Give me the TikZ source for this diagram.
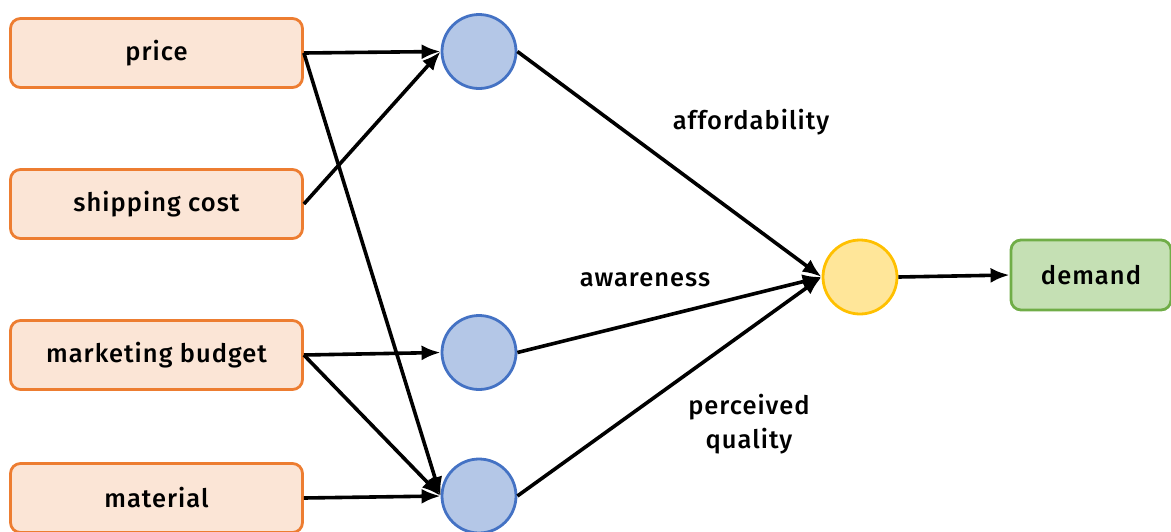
\documentclass[tikz,border=0pt]{standalone}
\usepackage{fontspec}
\setmainfont{Fira Sans}[UprightFont=* Medium,LetterSpace=4]
\usetikzlibrary{arrows.meta}

\definecolor{inorange}{HTML}{ED7D31}
\definecolor{inorangefill}{HTML}{FBE5D6}
\definecolor{hidblue}{HTML}{4472C4}
\definecolor{hidbluefill}{HTML}{B4C7E7}
\definecolor{outyellow}{HTML}{FFC000}
\definecolor{outyellowfill}{HTML}{FFE699}
\definecolor{resgreen}{HTML}{70AD47}
\definecolor{resgreenfill}{HTML}{C5E0B4}

\tikzset{
    inputbox/.style={draw=inorange,fill=inorangefill,line width=2.8pt,rounded corners=10pt,
        minimum width=292pt,minimum height=69pt},
    hidden/.style={circle,draw=hidblue,fill=hidbluefill,line width=2.8pt,minimum size=74pt},
    outnode/.style={circle,draw=outyellow,fill=outyellowfill,line width=2.8pt,minimum size=74pt},
    resultbox/.style={draw=resgreen,fill=resgreenfill,line width=2.8pt,rounded corners=10pt,
        minimum width=160pt,minimum height=70pt},
    link/.style={line width=3.6pt,-{Latex[length=19pt,width=15pt]}},
}

\begin{document}
\begin{tikzpicture}[x=1pt,y=-1pt,font=\fontsize{25.5}{30}\selectfont]

    \useasboundingbox (0,0) rectangle (1171,531);

    % input boxes
    \node[inputbox] (price)     at (156.5,53)  {price};
    \node[inputbox] (shipping)  at (156.5,204) {shipping cost};
    \node[inputbox] (marketing) at (156.5,355) {marketing budget};
    \node[inputbox] (material)  at (156.5,498) {material};

    % hidden layer
    \node[hidden] (afford)  at (479,51.5)  {};
    \node[hidden] (aware)   at (479,352.5) {};
    \node[hidden] (quality) at (479,496)   {};

    % output
    \node[outnode] (out) at (860,277) {};
    \node[resultbox] (demand) at (1091,275) {demand};

    % inputs to hidden layer
    \draw[link] (price.east) -- (afford.west);
    \draw[link] (price.east) -- (quality.west);
    \draw[link] (shipping.east) -- (afford.west);
    \draw[link] (marketing.east) -- (aware.west);
    \draw[link] (marketing.east) -- (quality.west);
    \draw[link] (material.east) -- (quality.west);

    % hidden layer to output
    \foreach \h in {afford,aware,quality}
        \draw[link] (\h.east) -- (out.west);
    \draw[link] (out.east) -- (demand.west);

    % labels
    \node (lafford)  at (751,122) {affordability};
    \node (laware)   at (645,280) {awareness};
    \node[align=center] (lquality) at (749,424) {perceived\\[4pt]quality};

\end{tikzpicture}
\end{document}
